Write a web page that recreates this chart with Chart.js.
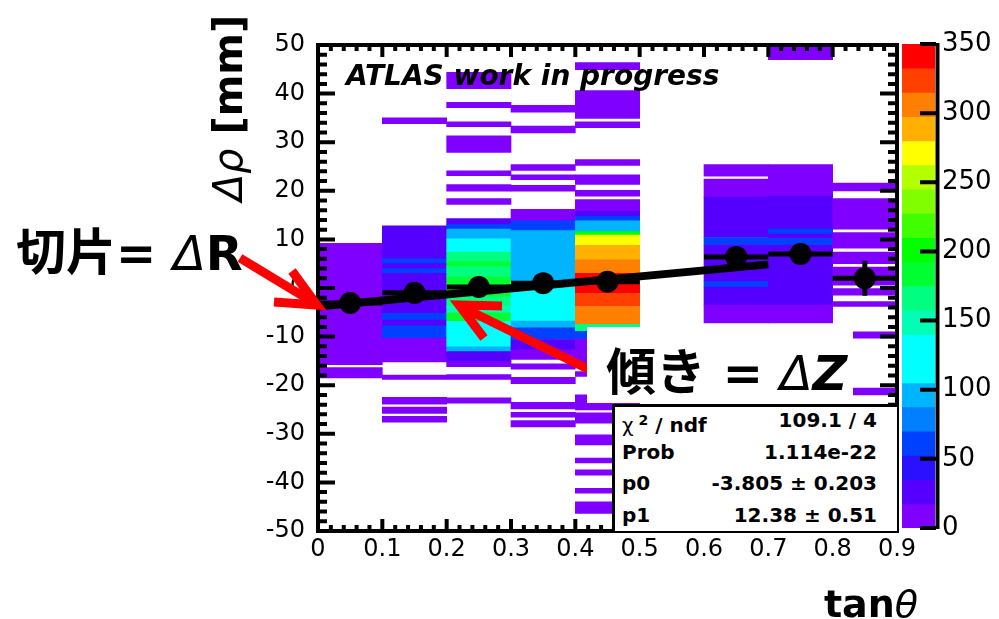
<!DOCTYPE html>
<html>
<head>
<meta charset="utf-8">
<title>Δρ vs tanθ</title>
<script src="https://cdn.jsdelivr.net/npm/chart.js"></script>
<style>
  body { margin: 0; width: 999px; height: 619px; overflow: hidden; position: relative; background: #fff; }
  canvas { position: absolute; top: 0; }
  #main { left: 0; }
  #pal { left: 890px; }
  .txt { position: absolute; white-space: nowrap; color: #000; line-height: 1; }
  #atlas { left: 346px; top: 59px; font: italic bold 28px "DejaVu Sans"; }
  #slopeBox { position: absolute; left: 587px; top: 327px; width: 266px; height: 76px; background: #fff; }
  #stats { position: absolute; left: 612px; top: 404px; width: 282px; height: 124px; background: #fff;
           border-left: 3px solid #000; border-top: 3px solid #000; }
  #rows { position: absolute; left: 622px; top: 405px; width: 255px; font: bold 20px "DejaVu Sans"; }
  #rows div { display: flex; justify-content: space-between; height: 31.7px; line-height: 31.7px; }
  .cjk { font-family: "Noto Sans CJK JP"; font-weight: bold; font-size: 50px; }
  .sym { font-family: "DejaVu Sans"; font-style: italic; font-weight: normal; }
  #icpt { left: 16px; top: 212px; font: bold 48px "DejaVu Sans"; }
  #slope { left: 606px; top: 332px; font: bold 48px "DejaVu Sans"; }
  #ytitle { left: 228px; top: 108px; transform: translate(-50%, -50%) rotate(-90deg); font: bold 40px "DejaVu Sans"; }
  #xtitle { right: 81px; top: 582px; font: bold 38px "DejaVu Sans"; }
  svg { position: absolute; left: 0; top: 0; }
</style>
</head>
<body>
<canvas id="main" width="999" height="619"></canvas>
<canvas id="pal" width="109" height="619"></canvas>
<div class="txt" id="atlas">ATLAS work in progress</div>
<svg width="999" height="619">
  <g stroke="#ff0000" stroke-width="9" fill="none" stroke-linejoin="miter">
    <line x1="240" y1="258" x2="311" y2="301"/>
    <polyline points="292,271 317,305 274,302"/>
    <line x1="590" y1="370" x2="466" y2="309"/>
    <polyline points="502,306 459,305 484,338"/>
  </g>
</svg>
<div id="slopeBox"></div>
<div id="stats"></div>
<div id="rows">
  <div><span><span style="font-weight:normal">χ</span><sup style="font-size:14px;vertical-align:7px;margin-left:5px">2</sup> / ndf</span><span>109.1 / 4</span></div>
  <div><span>Prob</span><span>1.114e-22</span></div>
  <div><span>p0</span><span>-3.805 ± 0.203</span></div>
  <div><span>p1</span><span>12.38 ± 0.51</span></div>
</div>
<div class="txt" id="icpt"><span class="cjk">切片</span>= <span class="sym">Δ</span>R</div>
<div class="txt" id="slope"><span class="cjk">傾き</span> = <span class="sym">Δ</span><i>Z</i></div>
<div class="txt" id="ytitle"><span class="sym">Δρ</span> [mm]</div>
<div class="txt" id="xtitle">tan<span class="sym">θ</span></div>

<script>
// tanθ bin centres (bins are 0.1 wide)
const xCenters = [0.05, 0.15, 0.25, 0.35, 0.45, 0.55, 0.65, 0.75, 0.85];

// filled cells of each tanθ column: [Δρ low, Δρ high, entries]
const col0 = [[-14.7, 9.2, 10], [-15.8, -14.6, 6], [-18.5, -16.4, 6]];
const col1 = [[33.8, 35, 6], [6, 12.8, 25], [5, 6, 60], [4, 5, 25], [3, 4, 60], [-5.2, 3, 28],
              [-6.6, -5.2, 60], [-7.8, -6.6, 28], [-10.3, -7.8, 60], [-15.2, -10.3, 15],
              [-18.8, -17.9, 6], [-23.9, -22.5, 6], [-25.8, -24.5, 6], [-27.6, -26.4, 6]];
const col2 = [[41, 44.4, 8], [37.1, 38.2, 6], [33.2, 34.2, 6], [27.9, 31.3, 8], [23.1, 24.1, 6],
              [19.9, 21.3, 6], [17.2, 18.4, 6], [13.1, 14.3, 25], [12.1, 13.1, 60], [10.1, 12.1, 95],
              [7.4, 10.1, 130], [5.4, 7.4, 160], [4.4, 5.4, 190], [2.3, 4.4, 160], [-1.8, 2.3, 185],
              [-3.8, -1.8, 165], [-5.1, -3.8, 150], [-6.9, -5.1, 190], [-12.1, -6.9, 130],
              [-13.1, -12.1, 95], [-15.2, -13.1, 25], [-16.2, -15.2, 10], [-18.8, -17.8, 6],
              [-23.7, -22.6, 6]];
const col3 = [[36.2, 37.6, 6], [31.9, 33.3, 6], [24.2, 25.4, 6], [22.3, 23.3, 6], [19.9, 21.1, 6],
              [13.8, 16.2, 10], [11.8, 13.8, 60], [4.6, 11.8, 90], [1.3, 4.6, 100], [-6.8, 1.3, 125],
              [-8.2, -6.8, 90], [-10.6, -8.2, 60], [-12.7, -10.6, 30], [-14.7, -12.7, 10],
              [-16.7, -15.6, 6], [-19.7, -18.4, 6], [-24.9, -23.5, 6], [-26.6, -25.6, 6],
              [-28.6, -27.3, 6]];
const col4 = [[44.9, 46.4, 6], [34.9, 40.6, 8], [33, 34.2, 6], [25.2, 26.4, 6], [21.3, 23.3, 6],
              [18.9, 20.1, 6], [15.8, 18.2, 10], [14.8, 15.8, 28], [13.8, 14.8, 60], [11.6, 13.8, 95],
              [10.9, 11.6, 200], [8.8, 10.9, 270], [5.8, 8.8, 290], [3.0, 5.8, 305], [-1.1, 3.0, 340],
              [-3.8, -1.1, 325], [-7.5, -3.8, 305], [-8.9, -7.5, 170], [-10.5, -8.9, 60],
              [-15.6, -10.5, 15], [-18.2, -17.2, 8], [-25.1, -22, 8], [-27.8, -25.7, 8],
              [-32.3, -30.2, 8], [-36, -35, 6], [-38.5, -37.4, 6], [-42.2, -41.2, 6], [-46.4, -44, 8]];
const col5 = [];
const col6 = [[23.0, 25.4, 8], [18.7, 22.4, 8], [10.4, 18.7, 28], [8.8, 10.4, 60], [1.3, 8.8, 28],
              [0.2, 1.3, 60], [-3.5, 0.2, 28], [-7.2, -3.5, 10]];
const col7 = [[47, 50, 6], [18.9, 25.4, 8], [12.1, 18.9, 28], [11.1, 12.1, 60], [10.2, 11.1, 28],
              [8.8, 10.2, 60], [-3.5, 8.8, 28], [-7.2, -3.5, 10]];
const col8 = [[20, 21.6, 8], [12.1, 18.4, 8], [8.2, 11.4, 8], [5, 7.4, 8], [0.6, 4.3, 8],
              [-1.5, -0.1, 8], [-3.8, -2.8, 8], [-10.3, -9, 6], [-22, -20.6, 6]];
const columns = [col0, col1, col2, col3, col4, col5, col6, col7, col8];

// profile (mean Δρ per bin) with errors
const profX = [0.05, 0.15, 0.25, 0.35, 0.45, 0.65, 0.75, 0.85];
const profY = [-3.1, -1.0, 0.2, 1.0, 1.3, 6.4, 7.0, 2.0];
const profErr = [0.5, 0.5, 0.4, 0.4, 0.4, 1.2, 1.2, 3.6];
const halfBin = 0.05;

// fitted line p0 + p1*tanθ, fit range 0 - 0.7
const fitX = [0, 0.7];
const fitY = [-3.805, 4.861];

// colour scale
const zTicks = [0, 50, 100, 150, 200, 250, 300, 350];
const palette = ['#8000ff', '#5500ff', '#2a10ff', '#0040ff', '#0080ff', '#00b4ff', '#00ffff', '#00ffff',
                 '#00ffb4', '#00ff80', '#00ff30', '#00ff00', '#40ff00', '#80ff00', '#b4ff00', '#ffff00',
                 '#ffb000', '#ff8000', '#ff4000', '#ff0000'];
const zMax = 350;
const zStep = zMax / palette.length;

function colorFor(n) {
  return palette[Math.min(palette.length - 1, Math.floor(n / zStep))];
}

Chart.defaults.font.family = 'DejaVu Sans';
Chart.defaults.color = '#000';

const cells = [];
columns.forEach((col, i) => {
  for (const [lo, hi, n] of col) cells.push({ x: xCenters[i], y: [lo, hi], n: n });
});

const datasets = [{
  type: 'bar',
  data: cells,
  backgroundColor: c => colorFor(c.raw.n),
  borderWidth: 0,
  categoryPercentage: 1,
  barPercentage: 1,
  order: 4
}, {
  type: 'line',
  data: fitX.map((x, i) => ({ x: x, y: fitY[i] })),
  borderColor: '#000',
  borderWidth: 8,
  pointRadius: 0,
  order: 3
}];

profX.forEach((x, i) => {
  datasets.push({
    type: 'line',
    data: [{ x: x - halfBin, y: profY[i] }, { x: x + halfBin, y: profY[i] }],
    borderColor: '#000', borderWidth: 5, pointRadius: 0, order: 2
  });
  datasets.push({
    type: 'line',
    data: [{ x: x, y: profY[i] - profErr[i] }, { x: x, y: profY[i] + profErr[i] }],
    borderColor: '#000', borderWidth: 5, pointRadius: 0, order: 2
  });
});

datasets.push({
  type: 'line',
  data: profX.map((x, i) => ({ x: x, y: profY[i] })),
  showLine: false,
  pointRadius: 11,
  pointBackgroundColor: '#000',
  pointBorderWidth: 0,
  order: 1
});

// ROOT style frame with ticks pointing inward
const frameTicks = {
  id: 'frameTicks',
  afterDatasetsDraw(chart) {
    const { ctx, chartArea: a, scales: { x, y } } = chart;
    ctx.save();
    ctx.strokeStyle = '#000';
    ctx.lineWidth = 4;
    ctx.beginPath();
    for (let i = 0; i <= 45; i++) {
      const px = x.getPixelForValue(i * 0.02);
      const len = i % 5 === 0 ? 12 : 6;
      ctx.moveTo(px, a.bottom); ctx.lineTo(px, a.bottom - len);
      ctx.moveTo(px, a.top); ctx.lineTo(px, a.top + len);
    }
    for (let i = 0; i <= 50; i++) {
      const py = y.getPixelForValue(-50 + i * 2);
      const len = i % 5 === 0 ? 17 : 9;
      ctx.moveTo(a.left, py); ctx.lineTo(a.left + len, py);
      ctx.moveTo(a.right, py); ctx.lineTo(a.right - len, py);
    }
    ctx.stroke();
    ctx.strokeRect(a.left, a.top, a.right - a.left, a.bottom - a.top);
    ctx.restore();
  }
};

new Chart(document.getElementById('main'), {
  type: 'bar',
  data: { datasets: datasets },
  options: {
    responsive: false,
    animation: false,
    events: [],
    layout: { padding: { left: 0, right: 102, top: 45, bottom: 48 } },
    scales: {
      x: {
        type: 'linear', min: 0, max: 0.9, offset: false,
        grid: { display: false, drawTicks: false, offset: false },
        border: { display: false },
        ticks: { stepSize: 0.1, autoSkip: false, maxRotation: 0, padding: 4, font: { size: 24 },
                 callback: v => v === 0 ? '0' : v.toFixed(1) },
        afterFit: s => { s.height = 40; }
      },
      y: {
        min: -50, max: 50,
        grid: { display: false, drawTicks: false },
        border: { display: false },
        ticks: { stepSize: 10, padding: 13, font: { size: 24 }, callback: v => String(v) },
        afterFit: s => { s.width = 318; }
      }
    },
    plugins: { legend: { display: false }, tooltip: { enabled: false } }
  },
  plugins: [frameTicks]
});

// colour bar axis line and inward ticks
const palAxis = {
  id: 'palAxis',
  afterDatasetsDraw(chart) {
    const { ctx, chartArea: a, scales: { y } } = chart;
    ctx.save();
    ctx.strokeStyle = '#000';
    ctx.lineWidth = 4;
    ctx.beginPath();
    ctx.moveTo(a.right + 2.5, a.top - 1);
    ctx.lineTo(a.right + 2.5, a.bottom + 1);
    for (const t of zTicks) {
      const py = y.getPixelForValue(t);
      ctx.moveTo(a.right + 1, py); ctx.lineTo(a.right - 15, py);
    }
    ctx.stroke();
    ctx.restore();
  }
};

new Chart(document.getElementById('pal'), {
  type: 'bar',
  data: {
    labels: ['z'],
    datasets: [{
      data: palette.map((c, i) => ({ x: 'z', y: [i * zStep, (i + 1) * zStep] })),
      backgroundColor: palette,
      borderWidth: 0,
      categoryPercentage: 1,
      barPercentage: 1
    }]
  },
  options: {
    responsive: false,
    animation: false,
    events: [],
    layout: { padding: { left: 12, right: 0, top: 44, bottom: 91 } },
    scales: {
      x: { display: false },
      y: {
        position: 'right', min: 0, max: zMax,
        grid: { display: false, drawTicks: false },
        border: { display: false },
        ticks: { stepSize: 50, padding: 7, font: { size: 26 } },
        afterFit: s => { s.width = 64; }
      }
    },
    plugins: { legend: { display: false }, tooltip: { enabled: false } }
  },
  plugins: [palAxis]
});
</script>
</body>
</html>
